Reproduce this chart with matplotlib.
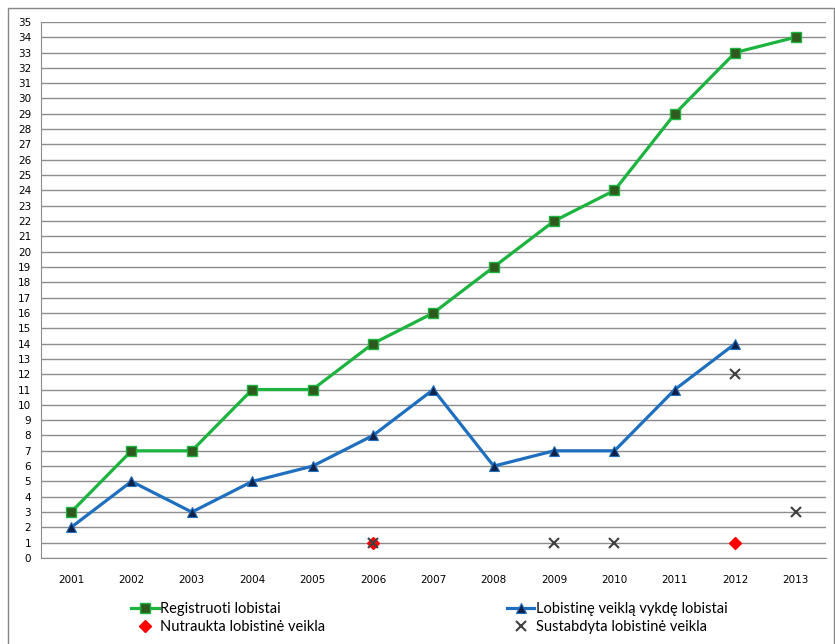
import numpy as np
import matplotlib.pyplot as plt
from matplotlib.patches import Rectangle

# Data
years = ['2001', '2002', '2003', '2004', '2005', '2006', '2007',
         '2008', '2009', '2010', '2011', '2012', '2013']
registruoti = [3, 7, 7, 11, 11, 14, 16, 19, 22, 24, 29, 33, 34]
vykde = [2, 5, 3, 5, 6, 8, 11, 6, 7, 7, 11, 14, np.nan]
nutraukta = [np.nan, np.nan, np.nan, np.nan, np.nan, 1, np.nan,
             np.nan, np.nan, np.nan, np.nan, 1, np.nan]
sustabdyta = [np.nan, np.nan, np.nan, np.nan, np.nan, 1, np.nan,
              np.nan, 1, 1, np.nan, 12, 3]

x = np.arange(len(years))

fig = plt.figure(figsize=(8.35, 6.44), dpi=100)
ax = fig.add_axes([0.049, 0.1335, 0.94, 0.8325])

# outer frame like the original chart area
fig.patches.append(Rectangle((8 / 835, -0.01), 826 / 835, 636 / 644 + 0.01,
                             transform=fig.transFigure, fill=False,
                             edgecolor='#868686', linewidth=1))

ax.plot(x, registruoti, color='#1db33f', linewidth=2.3, marker='s',
        markersize=7.5, markerfacecolor='#2f5a1e', markeredgecolor='#1db33f',
        markeredgewidth=1, label='Registruoti lobistai', zorder=3)
ax.plot(x, vykde, color='#1f6fbf', linewidth=2.3, marker='^',
        markersize=7.5, markerfacecolor='#10224a', markeredgecolor='#1f6fbf',
        markeredgewidth=0.8, label='Lobistinę veiklą vykdę lobistai', zorder=3)
ax.plot(x, nutraukta, linestyle='none', marker='D', markersize=6,
        color='#ff0000', label='Nutraukta lobistinė veikla', zorder=4)
ax.plot(x, sustabdyta, linestyle='none', marker='x', markersize=7,
        markeredgewidth=1.5, color='#404040',
        label='Sustabdyta lobistinė veikla', zorder=5)

ax.set_xlim(-0.5, len(years) - 0.5)
ax.set_ylim(0, 35)
ax.set_yticks(range(0, 36))
ax.set_xticks(x)
ax.set_xticklabels(years)
ax.tick_params(axis='both', length=0, labelsize=7.5, colors='black')
ax.tick_params(axis='x', pad=12)
ax.tick_params(axis='y', pad=7)

ax.grid(axis='y', color='#8c8c8c', linewidth=1)
ax.set_axisbelow(True)
for side in ['top', 'right']:
    ax.spines[side].set_visible(False)
ax.spines['left'].set_color('#8c8c8c')
ax.spines['bottom'].set_color('#8c8c8c')

handles, labels = ax.get_legend_handles_labels()
order = [0, 2, 1, 3]
fig.legend([handles[i] for i in order], [labels[i] for i in order],
           loc='center', bbox_to_anchor=(0.514, 0.04), ncol=2,
           frameon=False, prop={'family': 'Lato', 'size': 10.5},
           columnspacing=12.45, handlelength=1.9, handletextpad=0.1,
           labelspacing=0.25)

fig.savefig('out.png', dpi=100)
